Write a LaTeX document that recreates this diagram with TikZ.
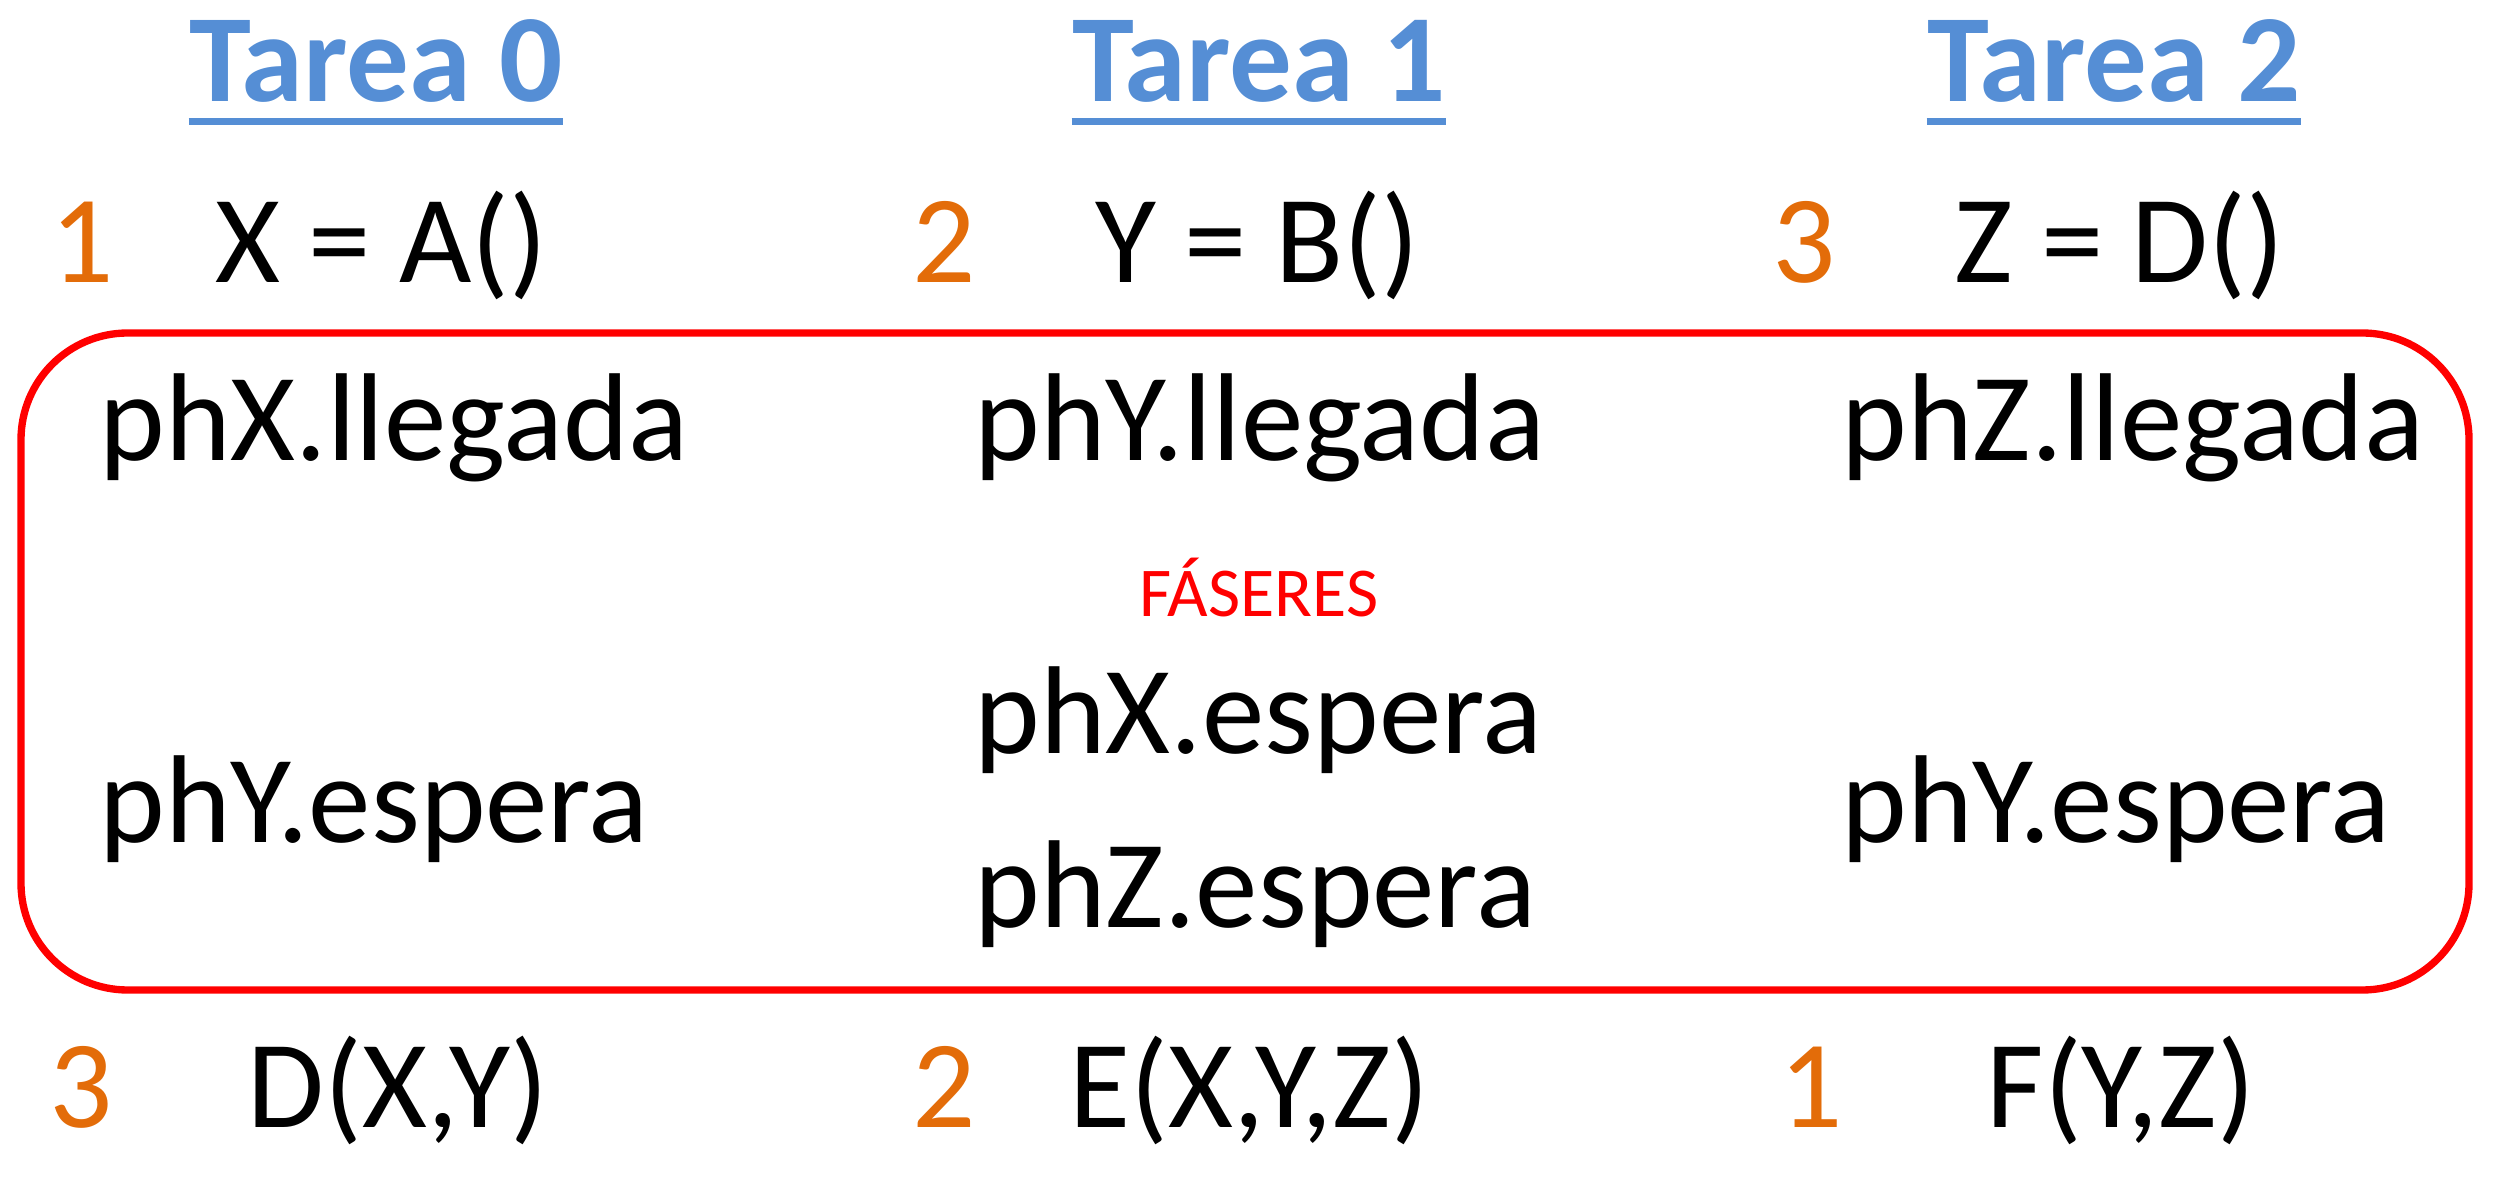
\documentclass[tikz,border=0pt]{standalone}
\usepackage{fontspec}
\setmainfont{Carlito}
\definecolor{tblue}{RGB}{85,142,213}
\definecolor{torange}{RGB}{227,108,9}
\definecolor{tred}{RGB}{255,0,0}
\begin{document}
\begin{tikzpicture}[x=0.3pt,y=-0.3pt,
  txt/.style={anchor=base west,inner sep=0pt,font=\fontsize{37.5}{45}\selectfont},
  title/.style={anchor=base,inner sep=0pt,text=tblue,font=\fontsize{37.5}{45}\selectfont\bfseries},
  num/.style={txt,text=torange},
  uline/.style={draw=tblue,line width=2.1pt},
  phbox/.style={draw=tred,line width=2.2pt,rounded corners=32pt}]
\useasboundingbox (0,0) rectangle (2495,1186);
% titles
\node[title] (t0) at (376,102) {Tarea 0};
\node[title] (t1) at (1259,102) {Tarea 1};
\node[title] (t2) at (2114,102) {Tarea 2};
\draw[uline] ([yshift=-6pt]t0.base west) -- ([yshift=-6pt]t0.base east);
\draw[uline] ([yshift=-6pt]t1.base west) -- ([yshift=-6pt]t1.base east);
\draw[uline] ([yshift=-6pt]t2.base west) -- ([yshift=-6pt]t2.base east);
% first row
\node[num] (n01) at (50,283) {1};
\node[txt] (a0) at (215,283) {X = A()};
\node[num] (n11) at (912,283) {2};
\node[txt] (a1) at (1095,283) {Y = B()};
\node[num] (n21) at (1772,283) {3};
\node[txt] (a2) at (1954,283) {Z = D()};
% phaser box
\draw[phbox] (21,333) rectangle (2469,990);
\node[txt] (l0) at (99,461) {phX.llegada};
\node[txt] (l1) at (974,461) {phY.llegada};
\node[txt] (l2) at (1841,461) {phZ.llegada};
\node[anchor=base,inner sep=0pt,text=tred,font=\fontsize{21}{25}\selectfont] (fas) at (1259,617) {FÁSERES};
\node[txt] (e1a) at (974,754) {phX.espera};
\node[txt] (e0) at (99,843) {phY.espera};
\node[txt] (e2) at (1841,843) {phY.espera};
\node[txt] (e1b) at (974,928) {phZ.espera};
% last row
\node[num] (n02) at (49,1127) {3};
\node[txt] (d0) at (247,1127) {D(X,Y)};
\node[num] (n12) at (912,1127) {2};
\node[txt] (d1) at (1069,1127) {E(X,Y,Z)};
\node[num] (n22) at (1779,1127) {1};
\node[txt] (d2) at (1986,1127) {F(Y,Z)};
\end{tikzpicture}
\end{document}
